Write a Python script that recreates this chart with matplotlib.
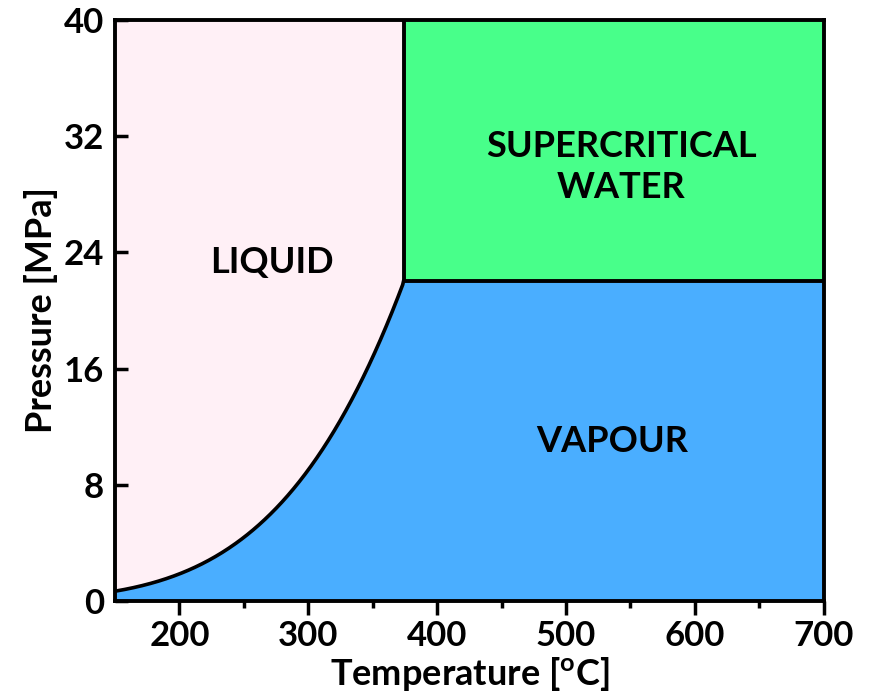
import numpy as np
import matplotlib
matplotlib.use('Agg')
import matplotlib.pyplot as plt

plt.rcParams['font.family'] = ['Lato', 'DejaVu Sans']
plt.rcParams['font.weight'] = 'bold'
plt.rcParams['mathtext.fontset'] = 'custom'
plt.rcParams['mathtext.rm'] = 'Lato:bold'

sat_temp = [150, 172, 198, 224, 250, 275, 290, 309, 330, 348, 363, 374]
sat_pres = [0.6, 1.25, 1.9, 2.85, 4.2, 6.05, 7.7, 9.95, 13.2, 16.85, 20.1, 22.06]

crit_temp = 374
crit_pres = 22.06

x_lim = [150, 700]
y_lim = [0, 40]
x_ticks = [200, 300, 400, 500, 600, 700]
y_ticks = [0, 8, 16, 24, 32, 40]

regions = ['LIQUID', 'SUPERCRITICAL\nWATER', 'VAPOUR']

liquid_color = '#fff0f6'
vapour_color = '#4aaeff'
scw_color = '#48ff8a'

# smooth line through the read points: ln(p) fitted against 1/T (kelvin)
inv_t = 1.0 / (np.array(sat_temp) + 273.15)
coef = np.polyfit(inv_t, np.log(sat_pres), 2)
cx = np.linspace(sat_temp[0], sat_temp[-1], 300)
cy = np.exp(np.polyval(coef, 1.0 / (cx + 273.15)))
cy[-1] = crit_pres

fig = plt.figure(figsize=(8.69, 6.94), dpi=100)
ax = fig.add_axes([0.1323, 0.134, 0.8157, 0.8372])
ax.set_facecolor(liquid_color)

# vapour below the boiling line and below the critical pressure
ax.fill_between(cx, 0, cy, color=vapour_color, lw=0)
ax.fill_between([crit_temp, x_lim[1]], 0, crit_pres, color=vapour_color, lw=0)
ax.fill_between([crit_temp, x_lim[1]], crit_pres, y_lim[1], color=scw_color, lw=0)

ax.plot(cx, cy, color='black', lw=2.6, solid_capstyle='round')
ax.plot([crit_temp, crit_temp, x_lim[1]], [y_lim[1], crit_pres, crit_pres],
        color='black', lw=2.8)

ax.set_xlim(x_lim)
ax.set_ylim(y_lim)
ax.set_xticks(x_ticks)
ax.set_xticks(np.arange(250, 700, 100), minor=True)
ax.set_yticks(y_ticks)

for s in ax.spines.values():
    s.set_linewidth(2.8)

ax.tick_params(axis='x', which='major', direction='out', length=10, width=2.5,
               labelsize=25, pad=4)
ax.tick_params(axis='x', which='minor', direction='out', length=5, width=2.5)
ax.tick_params(axis='y', which='major', direction='in', length=9, width=2.5,
               labelsize=25, pad=8)

ax.set_xlabel(r'Temperature [$\mathregular{^o}$C]', fontsize=26, fontweight='bold',
              labelpad=2)
ax.set_ylabel('Pressure [MPa]', fontsize=26, fontweight='bold', labelpad=4)

ax.text(272, 23.3, regions[0], fontsize=26, fontweight='bold', ha='center', va='center')
ax.text(543, 29.9, regions[1], fontsize=26, fontweight='bold', ha='center', va='center',
        linespacing=1.3)
ax.text(536, 11.0, regions[2], fontsize=26, fontweight='bold', ha='center', va='center')

fig.savefig('out.png', dpi=100)
